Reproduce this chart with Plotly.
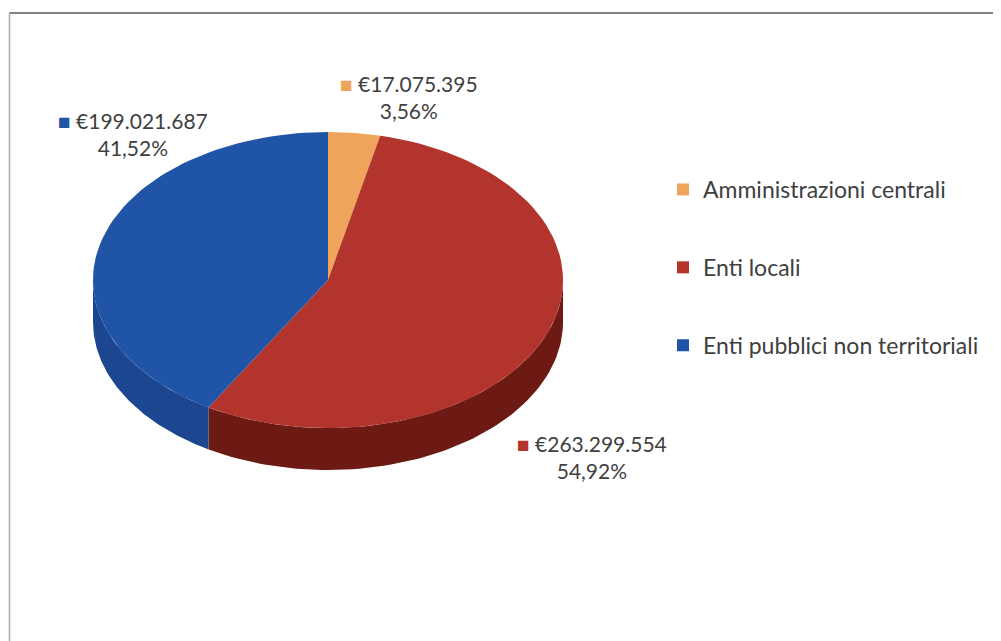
import numpy as np
import plotly.graph_objects as go

# Data
categories = ['Amministrazioni centrali', 'Enti locali', 'Enti pubblici non territoriali']
values = [17075395, 263299554, 199021687]
top_colors = ['#EFA45C', '#B3342C', '#2054A6']
side_colors = ['#B8733A', '#6E1A14', '#1D4690']

# 3D pie geometry (pixel space of the screenshot)
cx, cy, rx, ry, depth = 328, 280, 235, 148, 42
OFF = 8  # page body margin

def fmt_euro(v):
    return '€' + f'{v:,}'.replace(',', '.')

def fmt_pct(p):
    return f'{p:.2f}%'.replace('.', ',')

def arc(a0, a1, dy=0, n=80):
    t = np.radians(np.linspace(a0, a1, n))
    return cx + rx * np.sin(t), cy - ry * np.cos(t) + dy

def px(x):
    return (x - OFF) / 1001

def py(y):
    return 1 - (y - OFF) / 641

total = sum(values)
pcts = [v / total * 100 for v in values]
bounds = np.concatenate([[0], np.cumsum(values) / total * 360])

fig = go.Figure()

# side walls (front half only)
for i in range(len(values)):
    s, e = max(bounds[i], 90), min(bounds[i + 1], 270)
    if e <= s:
        continue
    xt, yt = arc(s, e)
    xb, yb = arc(e, s, dy=depth)
    fig.add_trace(go.Scatter(x=np.concatenate([xt, xb, xt[:1]]),
                             y=np.concatenate([yt, yb, yt[:1]]),
                             mode='lines', fill='toself', fillcolor=side_colors[i],
                             line=dict(width=0), showlegend=False, hoverinfo='skip'))

# top faces
for i in range(len(values)):
    xa, ya = arc(bounds[i], bounds[i + 1])
    fig.add_trace(go.Scatter(x=np.concatenate([[cx], xa, [cx]]),
                             y=np.concatenate([[cy], ya, [cy]]),
                             mode='lines', fill='toself', fillcolor=top_colors[i],
                             line=dict(width=0), showlegend=False,
                             name=categories[i], hoverinfo='name'))

# legend entries
for i, c in enumerate(categories):
    fig.add_trace(go.Scatter(x=[None], y=[None], mode='markers', name=c,
                             legendgroup=c,
                             marker=dict(symbol='square', size=12, color=top_colors[i])))

# data labels
label_pos = [(409, 97), (592, 457), (133, 134)]
for i, (lx, ly) in enumerate(label_pos):
    fig.add_annotation(x=lx, y=ly, xref='x', yref='y', showarrow=False, align='center',
                       text=f"<span style='color:{top_colors[i]}'>■</span> {fmt_euro(values[i])}"
                            f"<br>{fmt_pct(pcts[i])}",
                       font=dict(size=21, color='#404040', family='Lato'))

# chart border
fig.add_shape(type='line', xref='paper', yref='paper', x0=0.0015, x1=1.05,
              y0=py(13), y1=py(13), line=dict(color='#808080', width=2))
fig.add_shape(type='line', xref='paper', yref='paper', x0=0.0015, x1=0.0015,
              y0=-0.05, y1=py(13), line=dict(color='#a8a8a8', width=1.5))

fig.update_layout(
    width=1001, height=641,
    margin=dict(l=0, r=0, t=0, b=0),
    paper_bgcolor='white', plot_bgcolor='white',
    xaxis=dict(range=[OFF, 1001 + OFF], visible=False, fixedrange=True),
    yaxis=dict(range=[641 + OFF, OFF], visible=False, fixedrange=True),
    font=dict(family='Lato', size=21, color='#404040'),
    legend=dict(x=px(663), y=py(168), xanchor='left', yanchor='top',
                tracegroupgap=45, font=dict(size=23, color='#404040')),
)

fig.write_html('out.html')
